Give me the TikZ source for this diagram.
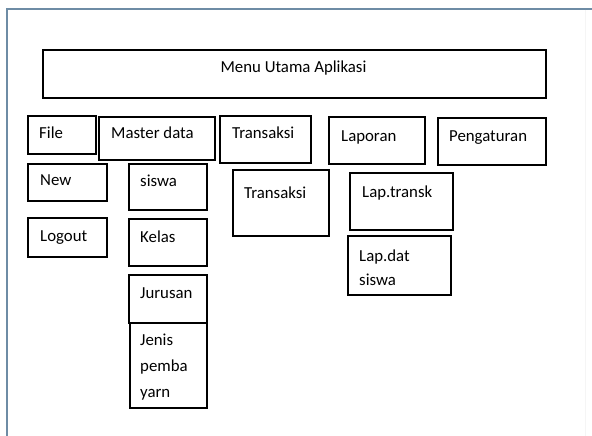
\documentclass[tikz,border=0pt]{standalone}
\usepackage{fontspec}
\setmainfont{Carlito}
\tikzset{
  menubox/.style={draw=black, line width=2pt, inner sep=0pt, anchor=north west},
  menutext/.style={inner sep=0pt, anchor=base west, font=\fontsize{16.8}{20}\selectfont},
  frameline/.style={draw={rgb,255:red,110;green,140;blue,165}, line width=2pt},
}
% \menuitem{name}{x1}{y1}{x2}{y2}{text x}{text baseline y}{text}
\newcommand{\menuitem}[8]{%
  \node[menubox, minimum width={(#4-#2)*1pt}, minimum height={(#5-#3)*1pt}] (#1) at (#2,#3) {};
  \node[menutext] (#1-t) at (#6,#7) {#8};
}
\begin{document}
\begin{tikzpicture}[x=1pt, y=-1pt]
  \useasboundingbox (0,0) rectangle (592,436);
  \fill[white] (0,0) rectangle (592,436);
  % page frame
  \coordinate (fbl) at (7,436);
  \coordinate (ftl) at (7,9);
  \coordinate (ftr) at (592,9);
  \draw[frameline] (fbl) -- (ftl) -- (ftr);
  \coordinate (frt) at (585,10);
  \coordinate (frb) at (585,436);
  \draw[gray!8, line width=1pt] (frt) -- (frb);

  % title bar
  \node[menubox, minimum width=503pt, minimum height=48pt] (main) at (42,49) {};
  \node[inner sep=0pt, anchor=base, font=\fontsize{16.8}{20}\selectfont] (main-t) at (293.5,73) {Menu Utama Aplikasi};

  % top-level menu
  \menuitem{file}{27}{115}{95}{153}{39}{139}{File}
  \menuitem{master}{98}{116}{214}{159}{111}{139}{Master data}
  \menuitem{trans}{219}{115}{310}{162}{232}{138}{Transaksi}
  \menuitem{lapor}{328}{116}{424}{163}{341}{141}{Laporan}
  \menuitem{peng}{437}{117}{545}{164}{449}{141}{Pengaturan}

  % File submenu
  \menuitem{new}{27}{163}{106}{200}{40}{185}{New}
  \menuitem{logout}{27}{217}{106}{256}{40}{241}{Logout}

  % Master data submenu
  \menuitem{siswa}{128}{163}{206}{209}{140}{186}{siswa}
  \menuitem{kelas}{128}{218}{206}{265}{140}{242}{Kelas}
  \menuitem{jurusan}{128}{274}{206}{322}{140}{298}{Jurusan}
  \menuitem{jenis}{129}{322}{206}{407}{140}{345}{Jenis}
  \node[menutext] (jenis-t2) at (140,371) {pemba};
  \node[menutext] (jenis-t3) at (140,397) {yarn};

  % Transaksi submenu
  \menuitem{transsub}{232}{169}{328}{235}{244}{198}{Transaksi}

  % Laporan submenu
  \menuitem{laptr}{349}{172}{452}{229}{362}{197}{Lap.transk}
  \menuitem{lapds}{347}{235}{450}{294}{359}{261}{Lap.dat}
  \node[menutext] (lapds-t2) at (359,285) {siswa};
\end{tikzpicture}
\end{document}
